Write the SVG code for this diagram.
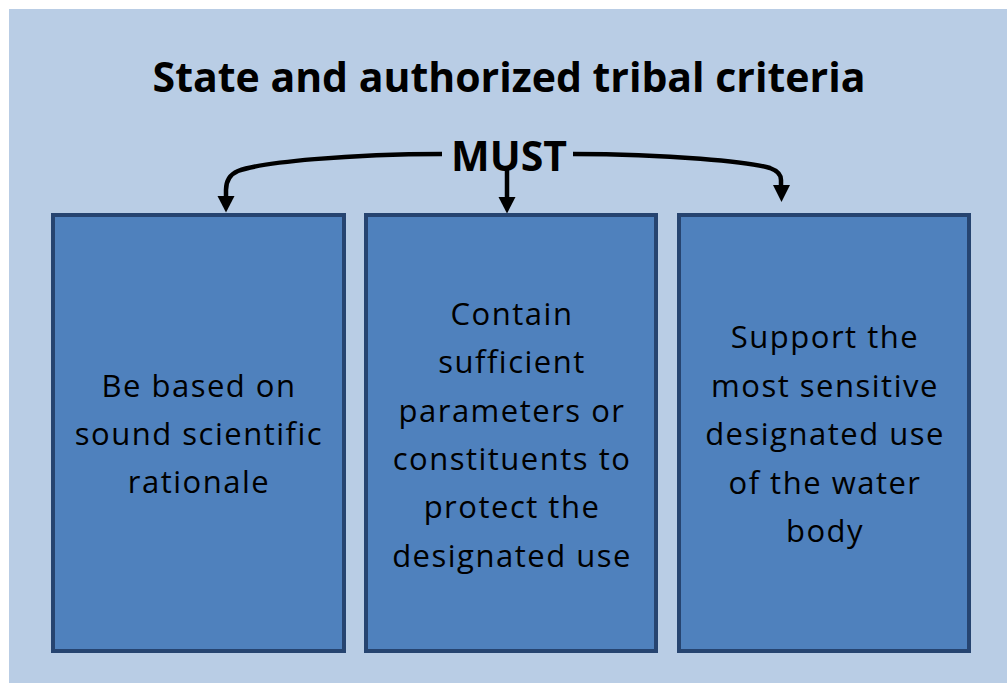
<svg xmlns="http://www.w3.org/2000/svg" width="1007" height="683" viewBox="0 0 1007 683">
<style>
.box{fill:#4f81bd;stroke:#264470;stroke-width:4}
.t{font-family:"Open Sans","Liberation Sans",sans-serif;fill:#000;text-anchor:middle;font-variant-ligatures:none}
.h{font-weight:bold}
.b{font-size:31px;letter-spacing:1.5px}
.c{fill:none;stroke:#000;stroke-width:4.5}
.ah{fill:#000}
</style>
<rect x="0" y="0" width="1007" height="683" fill="#fff"/>
<rect x="9" y="9" width="998" height="674" fill="#b9cde5"/>
<text class="t h" x="509" y="92" font-size="41">State and authorized tribal criteria</text>
<g id="must"><text class="t h" x="509" y="171" font-size="41">MUST</text></g>
<g id="connectors">
<path class="c" d="M442,154 C350,154 262,162 238,171 Q226,176 226,190 L226,198"/>
<polygon class="ah" points="217.5,196 234.5,196 226,212.5"/>
<path class="c" d="M573,154 C670,154 750,162 770,168 Q781,172 781,180 L781,187"/>
<polygon class="ah" points="773,185 790,185 781.5,202"/>
<path class="c" d="M507,166 L507,199"/>
<polygon class="ah" points="498.5,197 515.5,197 507,213.5"/>
</g>
<g id="box1">
<rect class="box" x="53" y="215" width="291" height="436"/>
<text class="t b"><tspan x="199" y="397">Be based on</tspan><tspan x="199" y="445">sound scientific</tspan><tspan x="199" y="493">rationale</tspan></text>
</g>
<g id="box2">
<rect class="box" x="366" y="215" width="290" height="436"/>
<text class="t b"><tspan x="512" y="325">Contain</tspan><tspan x="512" y="373">sufficient</tspan><tspan x="512" y="421.5">parameters or</tspan><tspan x="512" y="470">constituents to</tspan><tspan x="512" y="518">protect the</tspan><tspan x="512" y="566.5">designated use</tspan></text>
</g>
<g id="box3">
<rect class="box" x="679" y="215" width="290" height="436"/>
<text class="t b"><tspan x="825" y="348">Support the</tspan><tspan x="825" y="396.5">most sensitive</tspan><tspan x="825" y="445">designated use</tspan><tspan x="825" y="493.5">of the water</tspan><tspan x="825" y="542">body</tspan></text>
</g>
</svg>
